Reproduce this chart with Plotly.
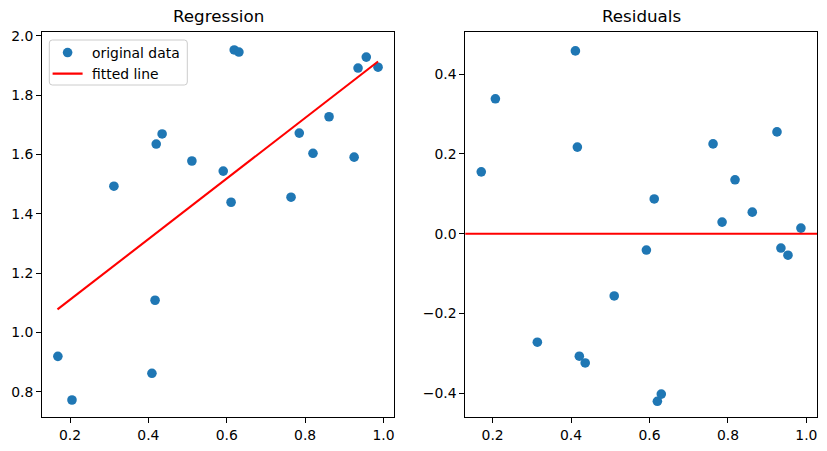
import plotly.graph_objects as go

# data
x_data = [0.169, 0.205, 0.312, 0.409, 0.417, 0.420, 0.435, 0.511, 0.591, 0.611,
          0.619, 0.631, 0.764, 0.785, 0.820, 0.861, 0.925, 0.935, 0.956, 0.986]
y_data = [0.920, 0.773, 1.493, 0.863, 1.109, 1.635, 1.669, 1.578, 1.544, 1.439,
          1.952, 1.945, 1.456, 1.672, 1.604, 1.727, 1.591, 1.891, 1.928, 1.894]
fit_x = [0.168, 0.986]
fit_y = [1.078, 1.913]

res_x = [0.171, 0.207, 0.314, 0.411, 0.416, 0.421, 0.436, 0.510, 0.592, 0.612,
         0.620, 0.630, 0.762, 0.785, 0.818, 0.862, 0.925, 0.935, 0.953, 0.986]
res_y = [0.155, 0.338, -0.272, 0.458, 0.217, -0.307, -0.324, -0.156, -0.041, 0.087,
         -0.420, -0.402, 0.225, 0.029, 0.135, 0.054, 0.255, -0.036, -0.054, 0.014]

x_ticks = [0.2, 0.4, 0.6, 0.8, 1.0]
x_ticklabels = ["0.2", "0.4", "0.6", "0.8", "1.0"]
y1_ticks = [0.8, 1.0, 1.2, 1.4, 1.6, 1.8, 2.0]
y1_ticklabels = ["0.8", "1.0", "1.2", "1.4", "1.6", "1.8", "2.0"]
y2_ticks = [-0.4, -0.2, 0.0, 0.2, 0.4]
y2_ticklabels = ["\u22120.4", "\u22120.2", "0.0", "0.2", "0.4"]

BLUE = "#1f77b4"
FONT = "DejaVu Sans"
W, H = 827, 451
ML, MR, MT, MB = 42, 10, 32, 34
PW, PH = W - ML - MR, H - MT - MB


def px_x(p):
    return (p - ML) / PW


def px_y(p):
    return 1 - (p - MT) / PH


fig = go.Figure()
fig.add_trace(go.Scatter(x=x_data, y=y_data, mode="markers", name="\u00a0original data",
                         marker=dict(color=BLUE, size=9.6, line=dict(width=0)),
                         xaxis="x", yaxis="y"))
fig.add_trace(go.Scatter(x=fit_x, y=fit_y, mode="lines", name="\u00a0fitted line",
                         line=dict(color="red", width=2.1), xaxis="x", yaxis="y"))
fig.add_trace(go.Scatter(x=res_x, y=res_y, mode="markers", showlegend=False,
                         marker=dict(color=BLUE, size=9.6, line=dict(width=0)),
                         xaxis="x2", yaxis="y2"))

axis_common = dict(showline=True, linecolor="black", linewidth=1.1, mirror=True,
                   ticks="outside", ticklen=4.9, tickwidth=1.1, tickcolor="black",
                   showgrid=False, zeroline=False,
                   tickfont=dict(family=FONT, size=13.9, color="black"))

d1 = [0, px_x(394.3)]
d2 = [px_x(465.3), 1]

# legend frame (rounded rectangle) in pixel coordinates
bx0, by0, bx1, by1, r = 49.3, 40.0, 187.3, 85.0, 3.0
path = (f"M {px_x(bx0 + r)},{px_y(by0)} L {px_x(bx1 - r)},{px_y(by0)} "
        f"Q {px_x(bx1)},{px_y(by0)} {px_x(bx1)},{px_y(by0 + r)} "
        f"L {px_x(bx1)},{px_y(by1 - r)} Q {px_x(bx1)},{px_y(by1)} {px_x(bx1 - r)},{px_y(by1)} "
        f"L {px_x(bx0 + r)},{px_y(by1)} Q {px_x(bx0)},{px_y(by1)} {px_x(bx0)},{px_y(by1 - r)} "
        f"L {px_x(bx0)},{px_y(by0 + r)} Q {px_x(bx0)},{px_y(by0)} {px_x(bx0 + r)},{px_y(by0)} Z")

fig.update_layout(
    width=W, height=H,
    margin=dict(l=ML, r=MR, t=MT, b=MB, autoexpand=False),
    paper_bgcolor="white", plot_bgcolor="white",
    font=dict(family=FONT, size=13.9, color="black"),
    xaxis=dict(domain=d1, range=[0.1285, 1.0275], tickvals=x_ticks, ticktext=x_ticklabels,
               anchor="y", **axis_common),
    yaxis=dict(domain=[0, 1], range=[0.7157, 2.0125], tickvals=y1_ticks, ticktext=y1_ticklabels,
               anchor="x", **axis_common),
    xaxis2=dict(domain=d2, range=[0.1303, 1.027], tickvals=x_ticks, ticktext=x_ticklabels,
                anchor="y2", **axis_common),
    yaxis2=dict(domain=[0, 1], range=[-0.4594, 0.5054], tickvals=y2_ticks, ticktext=y2_ticklabels,
                anchor="x2", **axis_common),
    legend=dict(x=px_x(47.6), y=px_y(37.0),
                xanchor="left", yanchor="top",
                bgcolor="rgba(0,0,0,0)", borderwidth=0,
                font=dict(family=FONT, size=13.9, color="black"),
                tracegroupgap=0, itemwidth=30),
    shapes=[
        dict(type="line", xref="x2 domain", yref="y2", x0=0, x1=1, y0=0, y1=0,
             line=dict(color="red", width=2.1)),
        dict(type="path", xref="paper", yref="paper", path=path, layer="above",
             fillcolor="rgba(255,255,255,0.8)", line=dict(color="#cccccc", width=1)),
    ],
    annotations=[
        dict(text="Regression", x=(d1[0] + d1[1]) / 2, y=1, xref="paper", yref="paper",
             xanchor="center", yanchor="bottom", yshift=4, showarrow=False,
             font=dict(family=FONT, size=16.7, color="black")),
        dict(text="Residuals", x=(d2[0] + d2[1]) / 2, y=1, xref="paper", yref="paper",
             xanchor="center", yanchor="bottom", yshift=4, showarrow=False,
             font=dict(family=FONT, size=16.7, color="black")),
    ],
)

fig.write_html("out.html")
